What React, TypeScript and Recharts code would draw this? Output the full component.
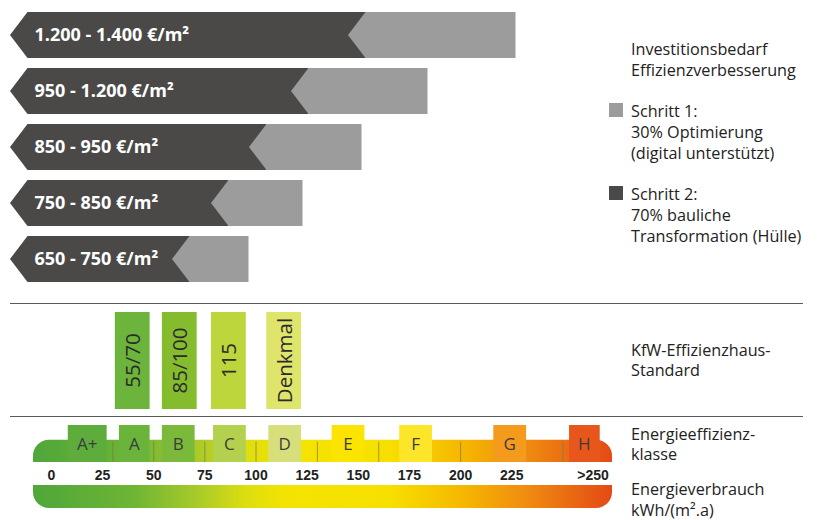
import React from "react";
import {
  BarChart,
  Bar,
  XAxis,
  YAxis,
  LabelList,
  Legend,
  ComposedChart,
  ReferenceArea,
  ReferenceLine,
} from "recharts";

// Investitionsbedarf: Balkenlängen (relativ)
const costLabels = ["1.200 - 1.400 €/m²", "950 - 1.200 €/m²", "850 - 950 €/m²", "750 - 850 €/m²", "650 - 750 €/m²"];
const schritt2 = [338, 281, 239, 201, 162];
const schritt1 = [150, 119, 95, 74, 59];
const stepNames = ["Schritt 1:\n30% Optimierung\n(digital unterstützt)", "Schritt 2:\n70% bauliche\nTransformation (Hülle)"];
const stepColors = ["#9c9c9c", "#4a4947"];

// KfW-Effizienzhaus-Standards, auf der kWh-Skala
const kfwLabels = ["55/70", "85/100", "115", "Denkmal"];
const kfwFrom = [31, 54, 78, 105];
const kfwTo = [48, 71, 95, 122];
const kfwColors = ["#6cb43c", "#85bc2e", "#bdd63c", "#dfe56b"];

// Energieeffizienzklassen
const classNames = ["A+", "A", "B", "C", "D", "E", "F", "G", "H"];
const classFrom = [8, 33, 54, 79, 106, 137, 170, 216, 253];
const classTo = [27, 48, 70, 95, 122, 153, 186, 232, 268];
const classColors = ["#5dac3c", "#6ab43c", "#7bb93a", "#b3d04e", "#d6df7c", "#fbe400", "#fde62a", "#f49a1c", "#e8561c"];
const classBounds = [30, 50, 75, 100, 130, 160, 200, 250];

// Energieverbrauch kWh/(m².a)
const scaleTicks = [0, 25, 50, 75, 100, 125, 150, 175, 200, 225, 250];
const scaleTickLabels = ["0", "25", "50", "75", "100", "125", "150", "175", "200", "225", ">250"];
const gradValues = [-9, 40, 70, 95, 115, 165, 200, 230, 274];
const gradColors = ["#4fa63a", "#6db534", "#a6c92a", "#dcde10", "#f4e300", "#f7e000", "#f6b800", "#f08f10", "#e44a14"];

const DOMAIN: [number, number] = [-9, 274];
const SCALE_MARGIN = { top: 0, right: 208, bottom: 0, left: 33 };
const TIP = 17.5;
const BODY = 0.6;
const FONT = "'Open Sans', sans-serif";

const rows = costLabels.map((label, i) => ({ label, schritt2: schritt2[i], schritt1: schritt1[i] }));
const kfw = kfwLabels.map((label, i) => ({ label, from: kfwFrom[i], to: kfwTo[i], color: kfwColors[i] }));
const classes = classNames.map((name, i) => ({ name, from: classFrom[i], to: classTo[i], color: classColors[i] }));

function ArrowShape(props: any) {
  const { x, y, width, height, fill } = props;
  const d = `M${x - TIP},${y + height / 2} L${x},${y} L${x + width},${y} L${x + width},${y + height} L${x},${y + height} Z`;
  return <path d={d} fill={fill} />;
}

function Gradient({ id }: { id: string }) {
  return (
    <defs>
      <linearGradient id={id} x1="0" y1="0" x2="1" y2="0">
        {gradValues.map((v, i) => (
          <stop key={i} offset={`${((v - DOMAIN[0]) / (DOMAIN[1] - DOMAIN[0])) * 100}%`} stopColor={gradColors[i]} />
        ))}
      </linearGradient>
    </defs>
  );
}

const roundedBar = (fill: string, top: boolean, r = 16) => (p: any) => {
  const { x, y, width: w, height: h } = p;
  const d = top
    ? `M${x},${y + h} L${x},${y + r} A${r},${r} 0 0 1 ${x + r},${y} L${x + w - r},${y} A${r},${r} 0 0 1 ${x + w},${y + r} L${x + w},${y + h} Z`
    : `M${x},${y} L${x + w},${y} L${x + w},${y + h - r} A${r},${r} 0 0 1 ${x + w - r},${y + h} L${x + r},${y + h} A${r},${r} 0 0 1 ${x},${y + h - r} Z`;
  return <path d={d} fill={fill} />;
};

function EnergyTick(props: any) {
  const { x, y, index } = props;
  const last = index === scaleTicks.length - 1;
  return (
    <text x={last ? x + 46 : x} y={y} dy="0.71em" textAnchor={last ? "end" : "middle"} fill="#222" fontSize={14} fontWeight={700} fontFamily="'Liberation Sans', Arial, sans-serif">
      {scaleTickLabels[index]}
    </text>
  );
}

function StepLegend() {
  return (
    <div style={{ fontFamily: FONT, fontSize: 16.2, lineHeight: "21px", color: "#222" }}>
      <div style={{ paddingLeft: 22 }}>Investitionsbedarf<br />Effizienzverbesserung</div>
      {stepNames.map((n, i) => (
        <div key={i} style={{ position: "relative", paddingLeft: 22, marginTop: 20 }}>
          <span style={{ position: "absolute", left: 0, top: 2.5, width: 14, height: 14, background: stepColors[i] }} />
          {n.split("\n").map((line, j) => (
            <div key={j}>{line}</div>
          ))}
        </div>
      ))}
    </div>
  );
}

const sideText = (top: number, lines: string[]) => (
  <div style={{ position: "absolute", left: 631, top, fontFamily: FONT, fontSize: 16.2, lineHeight: "20.5px", color: "#222", whiteSpace: "nowrap" }}>
    {lines.map((l, i) => (
      <div key={i}>{l}</div>
    ))}
  </div>
);

const divider = (top: number) => (
  <div style={{ position: "absolute", left: 10, top, width: 793, height: 1.5, background: "#5a5a5a" }} />
);

export default function App() {
  return (
    <div style={{ position: "absolute", left: 0, top: 0, width: 820, height: 520, background: "#fff", fontFamily: FONT, overflow: "hidden" }}>
      <div style={{ position: "absolute", left: 0, top: 0 }}>
        <BarChart width={820} height={292} data={rows} layout="vertical" margin={{ top: 7, right: 292.5, bottom: 5, left: 27.5 }} barSize={46}>
          <XAxis type="number" domain={[0, 500]} hide />
          <YAxis type="category" dataKey="label" hide />
          <Bar dataKey="schritt2" name={stepNames[1]} stackId="a" fill={stepColors[1]} shape={ArrowShape} isAnimationActive={false}>
            <LabelList dataKey="label" position="insideLeft" offset={7} fill="#fff" fontSize={18} fontWeight={700} fontFamily={FONT} />
          </Bar>
          <Bar dataKey="schritt1" name={stepNames[0]} stackId="a" fill={stepColors[0]} shape={ArrowShape} isAnimationActive={false} />
          <Legend layout="horizontal" verticalAlign="middle" align="center" content={StepLegend} wrapperStyle={{ left: 609, top: 38.5, width: 210, height: "auto" }} />
        </BarChart>
      </div>
      {sideText(339.5, ["KfW-Effizienzhaus-", "Standard"])}
      {sideText(423.5, ["Energieeffizienz-", "klasse"])}
      {sideText(479, ["Energieverbrauch", "kWh/(m².a)"])}

      {divider(302.5)}
      {divider(415.5)}

      <div style={{ position: "absolute", left: 0, top: 312 }}>
        <ComposedChart width={820} height={97} data={kfw} margin={SCALE_MARGIN}>
          <XAxis type="number" dataKey="from" domain={DOMAIN} allowDataOverflow hide />
          <YAxis type="number" domain={[0, 1]} allowDataOverflow hide />
          {kfw.map((k) => (
            <ReferenceArea
              key={k.label}
              x1={k.from}
              x2={k.to}
              y1={0}
              y2={1}
              fill={k.color}
              fillOpacity={1}
              stroke="none"
              label={(p: any) => {
                const vb = p.viewBox;
                const cx = vb.x + vb.width / 2;
                const cy = vb.y + vb.height / 2;
                return (
                  <text x={cx} y={cy} transform={`rotate(-90 ${cx} ${cy})`} textAnchor="middle" dominantBaseline="central" fontSize={20.5} fill="#2b2b2b" fontFamily={FONT}>
                    {k.label}
                  </text>
                );
              }}
            />
          ))}
        </ComposedChart>
      </div>

      <div style={{ position: "absolute", left: 0, top: 425 }}>
        <ComposedChart width={820} height={61} data={classes} margin={SCALE_MARGIN}>
          <Gradient id="gradClass" />
          <XAxis type="number" dataKey="from" domain={DOMAIN} allowDataOverflow ticks={scaleTicks} interval={0} axisLine={false} tickLine={false} height={24} tick={<EnergyTick />} />
          <YAxis type="number" domain={[0, 1]} allowDataOverflow hide />
          <ReferenceArea x1={DOMAIN[0]} x2={DOMAIN[1]} y1={0} y2={BODY} shape={roundedBar("url(#gradClass)", true)} />
          {classBounds.map((b) => (
            <ReferenceLine key={b} segment={[{ x: b, y: 0 }, { x: b, y: BODY * 0.92 }]} stroke="#7a7a50" strokeOpacity={0.7} strokeWidth={1} />
          ))}
          {classes.map((c) => (
            <ReferenceArea
              key={c.name}
              x1={c.from}
              x2={c.to}
              y1={0}
              y2={1}
              fill={c.color}
              fillOpacity={1}
              stroke="none"
              label={(p: any) => {
                const vb = p.viewBox;
                return (
                  <text x={vb.x + vb.width / 2} y={vb.y + vb.height / 2} textAnchor="middle" dominantBaseline="central" fontSize={17} fill="#3c3c3c" fontFamily={FONT}>
                    {c.name}
                  </text>
                );
              }}
            />
          ))}
        </ComposedChart>
      </div>

      <div style={{ position: "absolute", left: 0, top: 485 }}>
        <ComposedChart width={820} height={23} data={classes} margin={SCALE_MARGIN}>
          <Gradient id="gradUse" />
          <XAxis type="number" dataKey="from" domain={DOMAIN} allowDataOverflow hide />
          <YAxis type="number" domain={[0, 1]} allowDataOverflow hide />
          <ReferenceArea x1={DOMAIN[0]} x2={DOMAIN[1]} y1={0} y2={1} shape={roundedBar("url(#gradUse)", false)} />
        </ComposedChart>
      </div>
    </div>
  );
}
